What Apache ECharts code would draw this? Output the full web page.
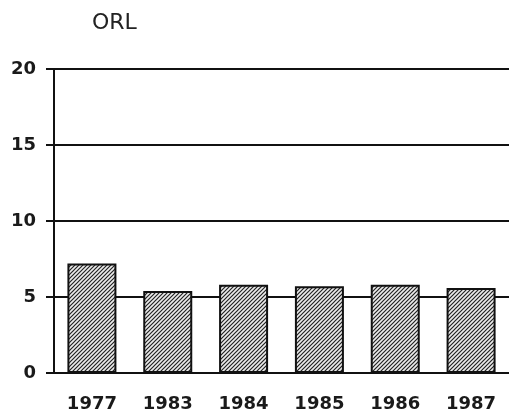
<!DOCTYPE html>
<html>
<head>
<meta charset="utf-8">
<script src="https://cdn.jsdelivr.net/npm/echarts@6/dist/echarts.min.js"></script>
<style>
html,body{margin:0;padding:0;background:#fff;}
#c{width:509px;height:416px;}
</style>
</head>
<body>
<div id="c"></div>
<script>
var categories = ['1977', '1983', '1984', '1985', '1986', '1987'];
var values = [7.2, 5.4, 5.8, 5.7, 5.8, 5.6];
var yTicks = [0, 5, 10, 15, 20];

function hatch() {
  var s = 4;
  var cv = document.createElement('canvas');
  cv.width = s; cv.height = s;
  var ctx = cv.getContext('2d');
  ctx.fillStyle = '#ececec';
  ctx.fillRect(0, 0, s, s);
  ctx.strokeStyle = '#222';
  ctx.lineWidth = 1.2;
  ctx.beginPath();
  ctx.moveTo(-1, s + 1); ctx.lineTo(s + 1, -1);
  ctx.moveTo(-1, 1); ctx.lineTo(1, -1);
  ctx.moveTo(s - 1, s + 1); ctx.lineTo(s + 1, s - 1);
  ctx.stroke();
  return cv;
}

var font = 'DejaVu Sans, Liberation Sans, Arial';
var chart = echarts.init(document.getElementById('c'), null, {renderer: 'canvas'});
chart.setOption({
  animation: false,
  backgroundColor: '#fff',
  title: {
    text: 'ORL', left: 87, top: 7,
    textStyle: {fontFamily: font, fontSize: 22, fontWeight: 'normal', color: '#222'}
  },
  grid: {left: 54, right: -4, top: 69, bottom: 43, containLabel: false},
  xAxis: {
    type: 'category', data: categories,
    axisLine: {show: true, lineStyle: {color: '#111', width: 2}},
    axisTick: {show: false},
    axisLabel: {margin: 22, color: '#1a1a1a', fontFamily: font, fontSize: 18, fontWeight: 'bold'}
  },
  yAxis: {
    type: 'value', min: yTicks[0], max: yTicks[yTicks.length - 1], interval: 5,
    axisLine: {show: true, lineStyle: {color: '#111', width: 2}},
    axisTick: {show: true, length: 8, lineStyle: {color: '#111', width: 2}},
    splitLine: {show: true, lineStyle: {color: '#111', width: 2}},
    axisLabel: {margin: 18, color: '#1a1a1a', fontFamily: font, fontSize: 18, fontWeight: 'bold'}
  },
  series: [{
    type: 'bar', data: values, barWidth: 49,
    itemStyle: {color: {image: hatch(), repeat: 'repeat'}, borderColor: '#111', borderWidth: 2}
  }]
});
</script>
</body>
</html>
